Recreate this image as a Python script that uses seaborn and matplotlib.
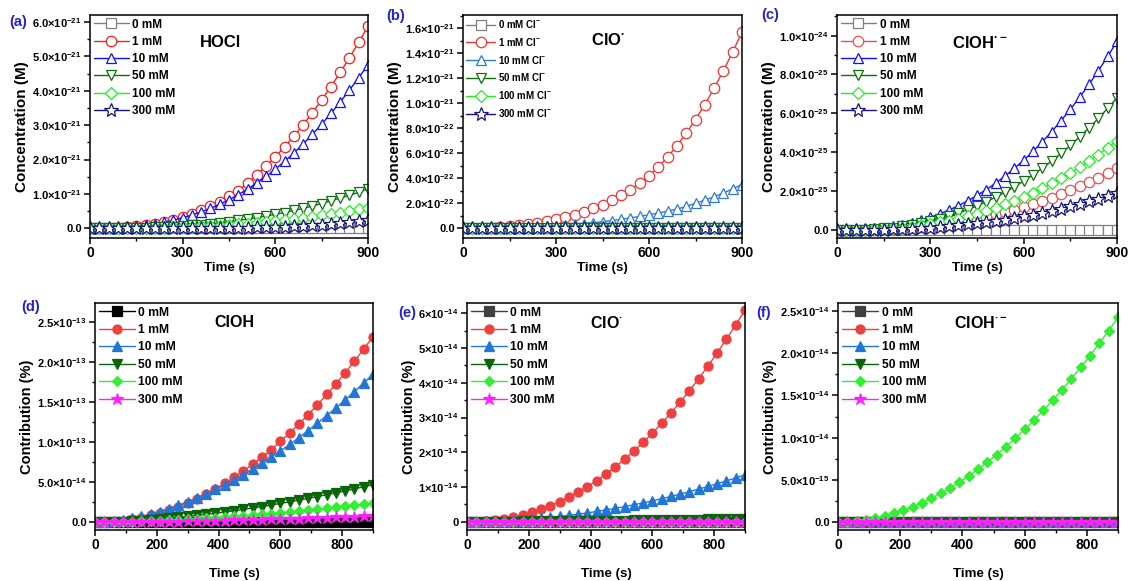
import numpy as np
import matplotlib
matplotlib.use("Agg")
import matplotlib.pyplot as plt
import seaborn as sns
from matplotlib.ticker import MultipleLocator

# ---------------- data ----------------
time_s = [0, 30, 60, 90, 120, 150, 180, 210, 240, 270, 300, 330, 360, 390, 420,
          450, 480, 510, 540, 570, 600, 630, 660, 690, 720, 750, 780, 810, 840, 870, 900]

zero_line = [0.0, 0.0, 0.0, 0.0, 0.0, 0.0, 0.0, 0.0, 0.0, 0.0, 0.0, 0.0, 0.0, 0.0, 0.0,
             0.0, 0.0, 0.0, 0.0, 0.0, 0.0, 0.0, 0.0, 0.0, 0.0, 0.0, 0.0, 0.0, 0.0, 0.0, 0.0]

# (a) HOCl concentration, in units of 1e-21 M
hocl_1 = [0.0, 0.0, 0.01, 0.02, 0.04, 0.06, 0.09, 0.13, 0.18, 0.25, 0.33, 0.42, 0.52, 0.64, 0.78,
          0.93, 1.10, 1.31, 1.55, 1.81, 2.08, 2.37, 2.68, 3.01, 3.36, 3.73, 4.12, 4.53, 4.96, 5.41, 5.87]
hocl_10 = [0.0, 0.0, 0.01, 0.02, 0.04, 0.06, 0.09, 0.13, 0.18, 0.24, 0.31, 0.39, 0.48, 0.58, 0.70,
           0.83, 0.98, 1.14, 1.32, 1.51, 1.72, 1.95, 2.19, 2.45, 2.73, 3.03, 3.34, 3.67, 4.02, 4.38, 4.75]
hocl_50 = [0.0, 0.0, 0.0, 0.0, 0.01, 0.01, 0.02, 0.03, 0.04, 0.05, 0.07, 0.09, 0.11, 0.13, 0.16,
           0.19, 0.23, 0.27, 0.31, 0.36, 0.41, 0.46, 0.52, 0.58, 0.65, 0.72, 0.80, 0.88, 0.96, 1.05, 1.15]
hocl_100 = [0.0, 0.0, 0.0, 0.0, 0.0, 0.01, 0.01, 0.01, 0.02, 0.03, 0.04, 0.05, 0.06, 0.07, 0.08,
            0.10, 0.12, 0.14, 0.16, 0.19, 0.21, 0.24, 0.27, 0.30, 0.34, 0.38, 0.42, 0.46, 0.50, 0.55, 0.60]
hocl_300 = [0.0, 0.0, 0.0, 0.0, 0.0, 0.0, 0.0, 0.0, 0.0, 0.0, 0.0, 0.01, 0.01, 0.01, 0.01,
            0.02, 0.02, 0.02, 0.03, 0.03, 0.04, 0.05, 0.06, 0.07, 0.09, 0.11, 0.13, 0.15, 0.18, 0.21, 0.25]

# (b) ClO· concentration, in units of 1e-21 M
clo_1 = [0.0, 0.0, 0.002, 0.005, 0.009, 0.015, 0.023, 0.032, 0.043, 0.056, 0.072, 0.09, 0.11, 0.133, 0.16,
         0.19, 0.225, 0.265, 0.31, 0.36, 0.42, 0.49, 0.57, 0.66, 0.76, 0.87, 0.99, 1.12, 1.26, 1.41, 1.57]
clo_10 = [0.0, 0.0, 0.0, 0.0, 0.002, 0.003, 0.005, 0.008, 0.011, 0.015, 0.02, 0.025, 0.031, 0.038, 0.045,
          0.053, 0.062, 0.072, 0.083, 0.095, 0.108, 0.122, 0.137, 0.153, 0.175, 0.20, 0.225, 0.252, 0.282, 0.315, 0.35]

# (c) ClOH·- concentration, in units of 1e-25 M
clohr_1 = [0.0, 0.0, 0.0, 0.01, 0.02, 0.04, 0.06, 0.09, 0.13, 0.17, 0.22, 0.27, 0.34, 0.41, 0.49,
           0.59, 0.69, 0.80, 0.92, 1.05, 1.18, 1.34, 1.50, 1.67, 1.85, 2.05, 2.25, 2.47, 2.70, 2.94, 3.20]
clohr_10 = [0.0, 0.0, 0.01, 0.03, 0.07, 0.12, 0.19, 0.28, 0.38, 0.51, 0.66, 0.83, 1.03, 1.25, 1.50,
            1.78, 2.08, 2.41, 2.78, 3.17, 3.59, 4.05, 4.54, 5.06, 5.62, 6.21, 6.83, 7.49, 8.19, 8.93, 9.70]
clohr_50 = [0.0, 0.0, 0.01, 0.02, 0.05, 0.08, 0.13, 0.19, 0.27, 0.36, 0.46, 0.58, 0.72, 0.88, 1.05,
            1.24, 1.46, 1.69, 1.95, 2.22, 2.52, 2.84, 3.18, 3.55, 3.94, 4.35, 4.79, 5.25, 5.74, 6.26, 6.80]
clohr_100 = [0.0, 0.0, 0.01, 0.02, 0.03, 0.06, 0.09, 0.13, 0.18, 0.24, 0.31, 0.39, 0.49, 0.59, 0.71,
             0.84, 0.99, 1.14, 1.32, 1.50, 1.70, 1.92, 2.15, 2.40, 2.66, 2.94, 3.24, 3.55, 3.88, 4.23, 4.60]
clohr_300 = [0.0, 0.0, 0.0, 0.01, 0.01, 0.02, 0.04, 0.05, 0.07, 0.10, 0.13, 0.16, 0.20, 0.24, 0.29,
             0.35, 0.41, 0.47, 0.54, 0.62, 0.70, 0.79, 0.89, 0.99, 1.10, 1.22, 1.34, 1.47, 1.60, 1.75, 1.90]

# (d) ClOH contribution, in units of 1e-13 %
d_1 = [0.0, 0.002, 0.009, 0.021, 0.037, 0.059, 0.086, 0.117, 0.154, 0.196, 0.244, 0.297, 0.355, 0.418, 0.487,
       0.560, 0.639, 0.724, 0.814, 0.909, 1.010, 1.117, 1.228, 1.346, 1.468, 1.597, 1.730, 1.869, 2.014, 2.164, 2.320]
d_10 = [0.0, 0.004, 0.014, 0.029, 0.049, 0.073, 0.102, 0.135, 0.171, 0.212, 0.256, 0.304, 0.356, 0.411, 0.469,
        0.531, 0.597, 0.665, 0.738, 0.813, 0.892, 0.973, 1.058, 1.147, 1.238, 1.333, 1.430, 1.530, 1.634, 1.740, 1.850]
d_50 = [0.0, 0.001, 0.005, 0.009, 0.015, 0.022, 0.031, 0.040, 0.050, 0.061, 0.073, 0.086, 0.099, 0.113, 0.129,
        0.145, 0.161, 0.179, 0.197, 0.216, 0.236, 0.256, 0.277, 0.299, 0.322, 0.345, 0.368, 0.393, 0.418, 0.444, 0.470]
d_100 = [0.0, 0.001, 0.002, 0.005, 0.008, 0.011, 0.016, 0.020, 0.025, 0.031, 0.037, 0.044, 0.051, 0.058, 0.066,
         0.074, 0.082, 0.091, 0.101, 0.110, 0.120, 0.131, 0.142, 0.153, 0.164, 0.176, 0.188, 0.201, 0.213, 0.227, 0.240]
d_300 = [0.0, 0.0, 0.001, 0.002, 0.003, 0.004, 0.005, 0.007, 0.008, 0.010, 0.012, 0.015, 0.017, 0.019, 0.022,
         0.025, 0.027, 0.030, 0.034, 0.037, 0.040, 0.044, 0.047, 0.051, 0.055, 0.059, 0.063, 0.067, 0.071, 0.076, 0.080]

# (e) ClO· contribution, in units of 1e-14 %
e_1 = [0.0, 0.004, 0.018, 0.043, 0.080, 0.129, 0.192, 0.267, 0.356, 0.458, 0.575, 0.706, 0.850, 1.010, 1.185,
       1.374, 1.579, 1.799, 2.034, 2.284, 2.551, 2.833, 3.131, 3.445, 3.776, 4.122, 4.485, 4.864, 5.259, 5.671, 6.100]
e_10 = [0.0, 0.0015, 0.006, 0.014, 0.024, 0.038, 0.054, 0.074, 0.096, 0.122, 0.150, 0.182, 0.216, 0.254, 0.294,
        0.338, 0.384, 0.434, 0.486, 0.542, 0.600, 0.662, 0.726, 0.794, 0.864, 0.938, 1.014, 1.094, 1.176, 1.262, 1.350]
e_50 = [0.0, 0.0, 0.001, 0.002, 0.003, 0.004, 0.005, 0.007, 0.008, 0.010, 0.012, 0.015, 0.017, 0.019, 0.022,
        0.025, 0.027, 0.030, 0.034, 0.037, 0.040, 0.044, 0.047, 0.051, 0.055, 0.059, 0.063, 0.067, 0.071, 0.076, 0.080]

# (f) ClOH·- contribution, in units of 1e-14 %
f_100 = [0.0, 0.003, 0.012, 0.027, 0.048, 0.074, 0.105, 0.142, 0.184, 0.231, 0.284, 0.342, 0.405, 0.474, 0.548,
         0.626, 0.710, 0.800, 0.894, 0.993, 1.097, 1.207, 1.322, 1.442, 1.566, 1.696, 1.831, 1.970, 2.115, 2.265, 2.420]

labels_mM = ["0 mM", "1 mM", "10 mM", "50 mM", "100 mM", "300 mM"]
labels_cl = ["0 mM Cl$^{-}$", "1 mM Cl$^{-}$", "10 mM Cl$^{-}$", "50 mM Cl$^{-}$",
             "100 mM Cl$^{-}$", "300 mM Cl$^{-}$"]

yt_a = [0, 1e-21, 2e-21, 3e-21, 4e-21, 5e-21, 6e-21]
yl_a = ["0.0", "1.0×10$^{-21}$", "2.0×10$^{-21}$", "3.0×10$^{-21}$", "4.0×10$^{-21}$",
        "5.0×10$^{-21}$", "6.0×10$^{-21}$"]
yt_b = [0, 2e-22, 4e-22, 6e-22, 8e-22, 1.0e-21, 1.2e-21, 1.4e-21, 1.6e-21]
yl_b = ["0.0", "2.0×10$^{-22}$", "4.0×10$^{-22}$", "6.0×10$^{-22}$", "8.0×10$^{-22}$",
        "1.0×10$^{-21}$", "1.2×10$^{-21}$", "1.4×10$^{-21}$", "1.6×10$^{-21}$"]
yt_c = [0, 2e-25, 4e-25, 6e-25, 8e-25, 1e-24]
yl_c = ["0.0", "2.0×10$^{-25}$", "4.0×10$^{-25}$", "6.0×10$^{-25}$", "8.0×10$^{-25}$", "1.0×10$^{-24}$"]
yt_d = [0, 5e-14, 1e-13, 1.5e-13, 2e-13, 2.5e-13]
yl_d = ["0.0", "5.0×10$^{-14}$", "1.0×10$^{-13}$", "1.5×10$^{-13}$", "2.0×10$^{-13}$", "2.5×10$^{-13}$"]
yt_e = [0, 1e-14, 2e-14, 3e-14, 4e-14, 5e-14, 6e-14]
yl_e = ["0", "1×10$^{-14}$", "2×10$^{-14}$", "3×10$^{-14}$", "4×10$^{-14}$", "5×10$^{-14}$", "6×10$^{-14}$"]
yt_f = [0, 5e-15, 1e-14, 1.5e-14, 2e-14, 2.5e-14]
yl_f = ["0.0", "5.0×10$^{-15}$", "1.0×10$^{-14}$", "1.5×10$^{-14}$", "2.0×10$^{-14}$", "2.5×10$^{-14}$"]

# ---------------- style ----------------
sns.set_style("ticks", {"axes.edgecolor": "black", "xtick.color": "black", "ytick.color": "black",
                        "text.color": "black", "axes.labelcolor": "black"})
plt.rcParams["font.family"] = ["Liberation Sans", "DejaVu Sans"]
plt.rcParams["font.weight"] = "bold"
plt.rcParams["axes.labelweight"] = "bold"
plt.rcParams["mathtext.fontset"] = "custom"
for k in ["rm", "bf", "it", "sf"]:
    plt.rcParams["mathtext." + k] = "Liberation Sans:bold"
plt.rcParams["mathtext.default"] = "rm"

markers = ["s", "o", "^", "v", "D", "*"]

fig = plt.figure(figsize=(11.29, 5.81), dpi=100)

def make_ax(left, top, right, bottom):
    W, H = 1129.0, 581.0
    return fig.add_axes([left / W, (H - bottom) / H, (right - left) / W, (bottom - top) / H])

def draw(ax, series, colors, scale, labels, open_mk, ms, ytk, ylab, ylim,
         xmaj, xmin, ymin_step, ylabel, ylfs, title, tfs, tpos, letter, lpos, legfs, lspace, xlabelpad):
    for vals, c, m, lab in zip(series, colors, markers, labels):
        y = np.asarray(vals) * scale
        msz = ms * (1.35 if m == "*" else (0.85 if m == "D" else 1.0))
        sns.lineplot(x=time_s, y=y, ax=ax, color=c, marker=m, markersize=msz,
                     markerfacecolor=("white" if open_mk else c), markeredgecolor=c,
                     markeredgewidth=0.9, linewidth=1.0, label=lab, legend=False)
    ax.set_xlim(0, 900)
    ax.set_ylim(*ylim)
    ax.set_xticks(xmaj)
    ax.xaxis.set_minor_locator(MultipleLocator(xmin))
    ax.set_yticks(ytk, ylab)
    ax.yaxis.set_minor_locator(MultipleLocator(ymin_step))
    ax.tick_params(axis="both", which="major", direction="out", length=4, width=1.1)
    ax.tick_params(axis="both", which="minor", direction="out", length=2.5, width=1.0)
    ax.tick_params(axis="y", labelsize=8.0, pad=2)
    ax.tick_params(axis="x", labelsize=10, pad=2)
    for s in ax.spines.values():
        s.set_linewidth(1.1)
        s.set_color("black")
    ax.set_xlabel("Time (s)", fontsize=9.6, fontweight="bold", labelpad=xlabelpad)
    ax.set_ylabel(ylabel, fontsize=ylfs, fontweight="bold", labelpad=2)
    ax.text(tpos[0], tpos[1], title, transform=ax.transAxes, ha="center", va="center",
            fontsize=tfs, fontweight="bold")
    fig.text(lpos[0] / 1129.0, 1 - lpos[1] / 581.0, letter, ha="left", va="center",
             fontsize=10.5, fontweight="bold", color="#2323c8")
    ax.legend(loc="upper left", bbox_to_anchor=(0.0, 1.0), frameon=False, fontsize=legfs,
              handlelength=3.0, handletextpad=0.3, labelspacing=lspace, borderaxespad=0.2,
              borderpad=0.1, markerscale=1.0)

top_cols_a = ["#808080", "#ff1a1a", "#1010ff", "#0b700b", "#22ee22", "#14147a"]
top_cols_b = ["#808080", "#f03535", "#2f7ad6", "#0b700b", "#22ee22", "#14147a"]
top_cols_c = ["#808080", "#e85050", "#1010ff", "#0b700b", "#22ee22", "#14147a"]
bot_cols_d = ["#000000", "#ee4040", "#2277d6", "#0a640a", "#33ee33", "#ff20ff"]
bot_cols_ef = ["#404040", "#ee4040", "#2277d6", "#0a640a", "#33ee33", "#ff20ff"]

ax_a = make_ax(90, 15, 368, 238)
draw(ax_a, [zero_line, hocl_1, hocl_10, hocl_50, hocl_100, hocl_300], top_cols_a, 1e-21,
     labels_mM, True, 7.5, yt_a, yl_a, (-0.28e-21, 6.2e-21), [0, 300, 600, 900], 150, 0.5e-21,
     "Concentration (M)", 11, "HOCl", 12, (0.47, 0.875), "(a)", (9, 22), 8.5, 0.45, 1)

ax_b = make_ax(463, 15, 742, 238)
draw(ax_b, [zero_line, clo_1, clo_10, zero_line, zero_line, zero_line], top_cols_b, 1e-21,
     labels_cl, True, 7.5, yt_b, yl_b, (-0.078e-21, 1.706e-21), [0, 300, 600, 900], 150, 0.1e-21,
     "Concentration (M)", 11, "ClO$^{\u00b7}$", 12, (0.52, 0.89), "(b)", (386, 16), 7.0, 0.6, 1)

ax_c = make_ax(837, 15, 1117, 238)
draw(ax_c, [zero_line, clohr_1, clohr_10, clohr_50, clohr_100, clohr_300], top_cols_c, 1e-25,
     labels_mM, True, 7.5, yt_c, yl_c, (-0.41e-25, 11.06e-25), [0, 300, 600, 900], 150, 1e-25,
     "Concentration (M)", 11, "ClOH$^{\u00b7-}$", 12, (0.51, 0.875), "(c)", (761, 15), 8.5, 0.45, 1)

ax_d = make_ax(95, 303, 373, 530)
draw(ax_d, [zero_line, d_1, d_10, d_50, d_100, d_300], bot_cols_d, 1e-13,
     labels_mM, False, 6.5, yt_d, yl_d, (-0.096e-13, 2.74e-13), [0, 200, 400, 600, 800], 100, 0.25e-13,
     "Contribution (%)", 10.5, "ClOH", 11.5, (0.50, 0.915), "(d)", (21, 307), 8.7, 0.45, 11)

ax_e = make_ax(467, 303, 745, 530)
draw(ax_e, [zero_line, e_1, e_10, e_50, zero_line, zero_line], bot_cols_ef, 1e-14,
     labels_mM, False, 6.5, yt_e, yl_e, (-0.24e-14, 6.3e-14), [0, 200, 400, 600, 800], 100, 0.5e-14,
     "Contribution (%)", 10.5, "ClO$^{\u00b7}$", 11.5, (0.50, 0.91), "(e)", (398, 313), 8.7, 0.45, 11)

ax_f = make_ax(838, 303, 1118, 530)
draw(ax_f, [zero_line, zero_line, zero_line, zero_line, f_100, zero_line], bot_cols_ef, 1e-14,
     labels_mM, False, 6.5, yt_f, yl_f, (-0.09e-14, 2.59e-14), [0, 200, 400, 600, 800], 100, 0.25e-14,
     "Contribution (%)", 10.5, "ClOH$^{\u00b7-}$", 11.5, (0.51, 0.91), "(f)", (756, 313), 8.7, 0.45, 11)

fig.savefig("out.png", dpi=100)
